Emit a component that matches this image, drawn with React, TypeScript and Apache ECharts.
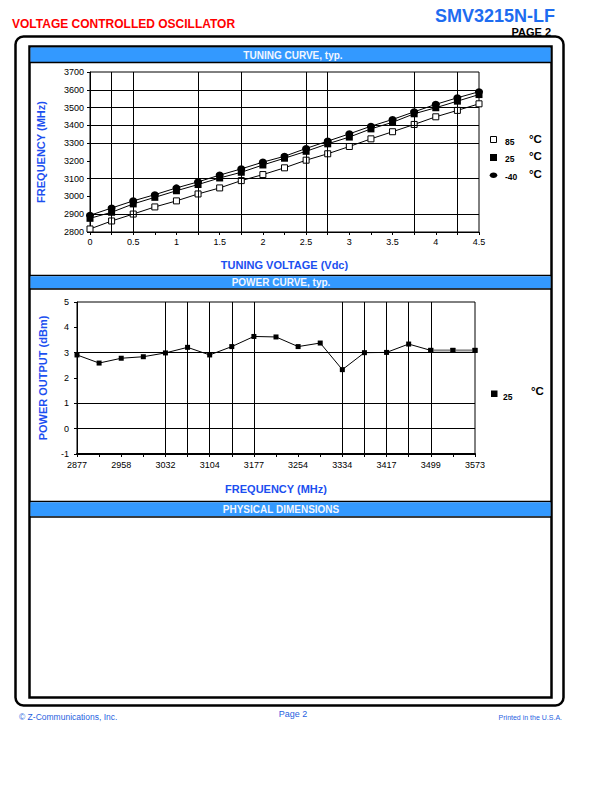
import React, { useEffect, useRef } from "react";
import * as echarts from "echarts";

// ---------- data ----------
const voltage = [0, 0.25, 0.5, 0.75, 1, 1.25, 1.5, 1.75, 2, 2.25, 2.5, 2.75, 3, 3.25, 3.5, 3.75, 4, 4.25, 4.5];
const freq85 = [2817, 2862, 2901, 2941, 2975, 3014, 3048, 3089, 3123, 3161, 3204, 3240, 3281, 3324, 3364, 3405, 3448, 3484, 3521];
const freq25 = [2877, 2911, 2958, 2995, 3032, 3067, 3104, 3136, 3177, 3215, 3254, 3296, 3334, 3380, 3417, 3465, 3499, 3536, 3573];
const freqM40 = [2894, 2935, 2975, 3010, 3048, 3082, 3120, 3155, 3193, 3226, 3270, 3311, 3352, 3395, 3433, 3476, 3518, 3555, 3589];

const powerFreq = freq25.map(String);
const powerOut = [2.91, 2.59, 2.78, 2.84, 2.99, 3.21, 2.91, 3.24, 3.64, 3.62, 3.24, 3.38, 2.33, 3.0, 3.01, 3.34, 3.09, 3.09, 3.09];

const tuningGridV = [0.25, 0.5, 1.25, 1.75, 2.5, 2.75, 3.75, 4.25];
const tuningGridH = [3600, 3500, 3400, 3300, 3100, 2900];
const powerGridV = [4, 5, 6, 7, 8, 12, 13, 14, 15, 16];
const powerGridH = [3, 1, 0];

const tuningLegend = ["85", "25", "-40"];
const powerLegend = ["25"];

const FONT = '"Liberation Sans", Arial, sans-serif';
const AXIS_BLUE = "#1c4ff0";
const BAR_BLUE = "#3399ff";

function txt(text: string, x: number, y: number, opts: any = {}) {
  const align = opts.align || "left";
  const valign = opts.valign || "middle";
  return {
    type: "text",
    silent: true,
    z: 10,
    style: {
      text,
      x,
      y,
      fill: opts.fill || "#000",
      font: opts.font || `9px ${FONT}`,
      align,
      verticalAlign: valign,
      textAlign: align,
      textVerticalAlign: valign,
    },
  };
}

export default function App() {
  const ref = useRef<HTMLDivElement>(null);

  useEffect(() => {
    if (!ref.current) return;
    const chart = echarts.init(ref.current, undefined, { renderer: "svg" });

    const gridLine = { color: "#000", width: 1, type: "solid" as const };
    const labelStyle = { color: "#000", fontSize: 9, fontFamily: FONT };
    const nameStyle = { color: AXIS_BLUE, fontSize: 11, fontWeight: "bold" as const, fontFamily: FONT };
    const plain = (v: number) => String(v);

    const graphic: any[] = [
      // page frames
      { type: "rect", silent: true, shape: { x: 15.5, y: 36.5, width: 548, height: 669, r: 8 }, style: { fill: "none", stroke: "#000", lineWidth: 2.5 } },
      { type: "rect", silent: true, shape: { x: 29.5, y: 46.5, width: 522, height: 651 }, style: { fill: "none", stroke: "#000", lineWidth: 2.5 } },
      // header bars
      { type: "rect", silent: true, shape: { x: 30.5, y: 47.5, width: 520, height: 14.5 }, style: { fill: BAR_BLUE } },
      { type: "line", silent: true, shape: { x1: 30, y1: 62.5, x2: 551, y2: 62.5 }, style: { stroke: "#000", lineWidth: 1.5 } },
      { type: "line", silent: true, shape: { x1: 30, y1: 275.5, x2: 551, y2: 275.5 }, style: { stroke: "#000", lineWidth: 1.5 } },
      { type: "rect", silent: true, shape: { x: 30.5, y: 276.3, width: 520, height: 12.2 }, style: { fill: BAR_BLUE } },
      { type: "line", silent: true, shape: { x1: 30, y1: 289, x2: 551, y2: 289 }, style: { stroke: "#000", lineWidth: 1.5 } },
      { type: "line", silent: true, shape: { x1: 30, y1: 501.5, x2: 551, y2: 501.5 }, style: { stroke: "#000", lineWidth: 1.5 } },
      { type: "rect", silent: true, shape: { x: 30.5, y: 502.3, width: 520, height: 14 }, style: { fill: BAR_BLUE } },
      { type: "line", silent: true, shape: { x1: 30, y1: 517, x2: 551, y2: 517 }, style: { stroke: "#000", lineWidth: 1.5 } },
      txt("TUNING CURVE, typ.", 293, 55.5, { align: "center", fill: "#f2f6ff", font: `bold 10px ${FONT}` }),
      txt("POWER CURVE, typ.", 281, 282.5, { align: "center", fill: "#f2f6ff", font: `bold 10px ${FONT}` }),
      txt("PHYSICAL DIMENSIONS", 281, 509.5, { align: "center", fill: "#f2f6ff", font: `bold 10px ${FONT}` }),
      // page titles
      txt("VOLTAGE CONTROLLED OSCILLATOR", 12, 24, { fill: "#ff0000", font: `bold 12px ${FONT}` }),
      txt("SMV3215N-LF", 555, 15.5, { align: "right", fill: "#1e6cf0", font: `bold 18px ${FONT}` }),
      txt("PAGE 2", 551, 31.5, { align: "right", fill: "#000", font: `bold 11px ${FONT}` }),
      // footer
      txt("\u00a9 Z-Communications, Inc.", 19, 716.5, { fill: "#1f5fe0", font: `8.5px ${FONT}` }),
      txt("Page 2", 293, 714, { align: "center", fill: "#1f5fe0", font: `9px ${FONT}` }),
      txt("Printed in the U.S.A.", 562, 717, { align: "right", fill: "#1f5fe0", font: `7px ${FONT}` }),
    ];

    // tuning legend
    const legRows = [141, 158, 176];
    tuningLegend.forEach((label, i) => {
      const y = legRows[i];
      if (i === 0) {
        graphic.push({ type: "rect", silent: true, shape: { x: 490.5, y: y - 4.5, width: 6, height: 6 }, style: { fill: "#fff", stroke: "#000", lineWidth: 1 } });
      } else if (i === 1) {
        graphic.push({ type: "rect", silent: true, shape: { x: 490, y: y - 4, width: 7, height: 7 }, style: { fill: "#000" } });
      } else {
        graphic.push({ type: "ellipse", silent: true, shape: { cx: 493.5, cy: y - 0.8, rx: 3.8, ry: 2.8 }, style: { fill: "#000" } });
      }
      graphic.push(txt(label, 505, y + 1, { font: `bold 8.5px ${FONT}` }));
      graphic.push(txt("\u00b0C", 529, y - 2.5, { font: `bold 11.5px ${FONT}` }));
    });
    powerLegend.forEach((label) => {
      const y = 394;
      graphic.push({ type: "rect", silent: true, shape: { x: 491, y: y - 3.5, width: 6.5, height: 6.5 }, style: { fill: "#000" } });
      graphic.push(txt(label, 503, y + 2.5, { font: `bold 8.5px ${FONT}` }));
      graphic.push(txt("\u00b0C", 531, y - 3, { font: `bold 11.5px ${FONT}` }));
    });

    const tuningPairs = (arr: number[]) => voltage.map((v, i) => [v, arr[i]]);

    chart.setOption({
      animation: false,
      backgroundColor: "#fff",
      graphic,
      grid: [
        { left: 90, top: 72, width: 389, height: 160, show: true, borderColor: "#000", borderWidth: 1, backgroundColor: "transparent" },
        { left: 77, top: 302, width: 398, height: 152, show: true, borderColor: "#000", borderWidth: 1, backgroundColor: "transparent" },
      ],
      xAxis: [
        {
          type: "value",
          gridIndex: 0,
          min: 0,
          max: 4.5,
          interval: 0.5,
          name: "TUNING VOLTAGE (Vdc)",
          nameLocation: "middle",
          nameGap: 27,
          nameTextStyle: nameStyle,
          axisLine: { show: true, onZero: false, lineStyle: { color: "#000", width: 1 } },
          axisTick: { show: true, length: 3, lineStyle: { color: "#000" } },
          minorTick: { show: true, splitNumber: 2, length: 3, lineStyle: { color: "#000" } },
          axisLabel: { ...labelStyle, margin: 5, formatter: plain },
          splitLine: { show: false },
        },
        {
          type: "category",
          gridIndex: 1,
          data: powerFreq,
          boundaryGap: false,
          name: "FREQUENCY (MHz)",
          nameLocation: "middle",
          nameGap: 29,
          nameTextStyle: nameStyle,
          axisLine: { show: true, onZero: false, lineStyle: { color: "#000", width: 2 } },
          axisTick: { show: true, length: 3, interval: 0, lineStyle: { color: "#000" } },
          axisLabel: { ...labelStyle, margin: 6, interval: 1 },
          splitLine: { show: false },
        },
      ],
      yAxis: [
        {
          type: "value",
          gridIndex: 0,
          min: 2800,
          max: 3700,
          interval: 100,
          name: "FREQUENCY (MHz)",
          nameLocation: "middle",
          nameGap: 44,
          nameTextStyle: nameStyle,
          axisLine: { show: true, onZero: false, lineStyle: { color: "#000", width: 1 } },
          axisTick: { show: true, length: 3, lineStyle: { color: "#000" } },
          axisLabel: { ...labelStyle, margin: 6, formatter: plain },
          splitLine: { show: false },
        },
        {
          type: "value",
          gridIndex: 1,
          min: -1,
          max: 5,
          interval: 1,
          name: "POWER OUTPUT (dBm)",
          nameLocation: "middle",
          nameGap: 29,
          nameTextStyle: nameStyle,
          axisLine: { show: true, onZero: false, lineStyle: { color: "#000", width: 1 } },
          axisTick: { show: true, length: 3, lineStyle: { color: "#000" } },
          axisLabel: { ...labelStyle, margin: 8, formatter: plain },
          splitLine: { show: false },
        },
      ],
      series: [
        {
          name: "grid-tuning",
          type: "line",
          xAxisIndex: 0,
          yAxisIndex: 0,
          data: tuningPairs(freq25),
          showSymbol: false,
          lineStyle: { opacity: 0 },
          silent: true,
          z: 1,
          markLine: {
            silent: true,
            symbol: ["none", "none"],
            label: { show: false },
            lineStyle: gridLine,
            data: [...tuningGridV.map((v) => ({ xAxis: v })), ...tuningGridH.map((v) => ({ yAxis: v }))],
          },
        },
        {
          name: "85",
          type: "line",
          xAxisIndex: 0,
          yAxisIndex: 0,
          data: tuningPairs(freq85),
          symbol: "rect",
          symbolSize: 6,
          itemStyle: { color: "#fff", borderColor: "#000", borderWidth: 1 },
          lineStyle: { color: "#000", width: 1 },
          z: 3,
        },
        {
          name: "25",
          type: "line",
          xAxisIndex: 0,
          yAxisIndex: 0,
          data: tuningPairs(freq25),
          symbol: "rect",
          symbolSize: 7,
          itemStyle: { color: "#000" },
          lineStyle: { color: "#000", width: 1 },
          z: 3,
        },
        {
          name: "-40",
          type: "line",
          xAxisIndex: 0,
          yAxisIndex: 0,
          data: tuningPairs(freqM40),
          symbol: "circle",
          symbolSize: [8, 7],
          itemStyle: { color: "#000" },
          lineStyle: { color: "#000", width: 1 },
          z: 3,
        },
        {
          name: "grid-power",
          type: "line",
          xAxisIndex: 1,
          yAxisIndex: 1,
          data: powerOut,
          showSymbol: false,
          lineStyle: { opacity: 0 },
          silent: true,
          z: 1,
          markLine: {
            silent: true,
            symbol: ["none", "none"],
            label: { show: false },
            lineStyle: gridLine,
            data: [...powerGridV.map((i) => ({ xAxis: powerFreq[i] })), ...powerGridH.map((v) => ({ yAxis: v }))],
          },
        },
        {
          name: "power 25",
          type: "line",
          xAxisIndex: 1,
          yAxisIndex: 1,
          data: powerOut,
          symbol: "rect",
          symbolSize: 5,
          itemStyle: { color: "#000" },
          lineStyle: { color: "#000", width: 1 },
          z: 3,
        },
        {
          name: "power tail",
          type: "line",
          xAxisIndex: 1,
          yAxisIndex: 1,
          data: powerOut.map((v, i) => (i >= 16 ? v : null)),
          symbol: "rect",
          symbolSize: 5,
          itemStyle: { color: "#000" },
          lineStyle: { color: "#8a8a8a", width: 2 },
          z: 4,
        },
      ],
    });

    return () => chart.dispose();
  }, []);

  return <div ref={ref} style={{ position: "absolute", left: 0, top: 0, width: 612, height: 792 }} />;
}
